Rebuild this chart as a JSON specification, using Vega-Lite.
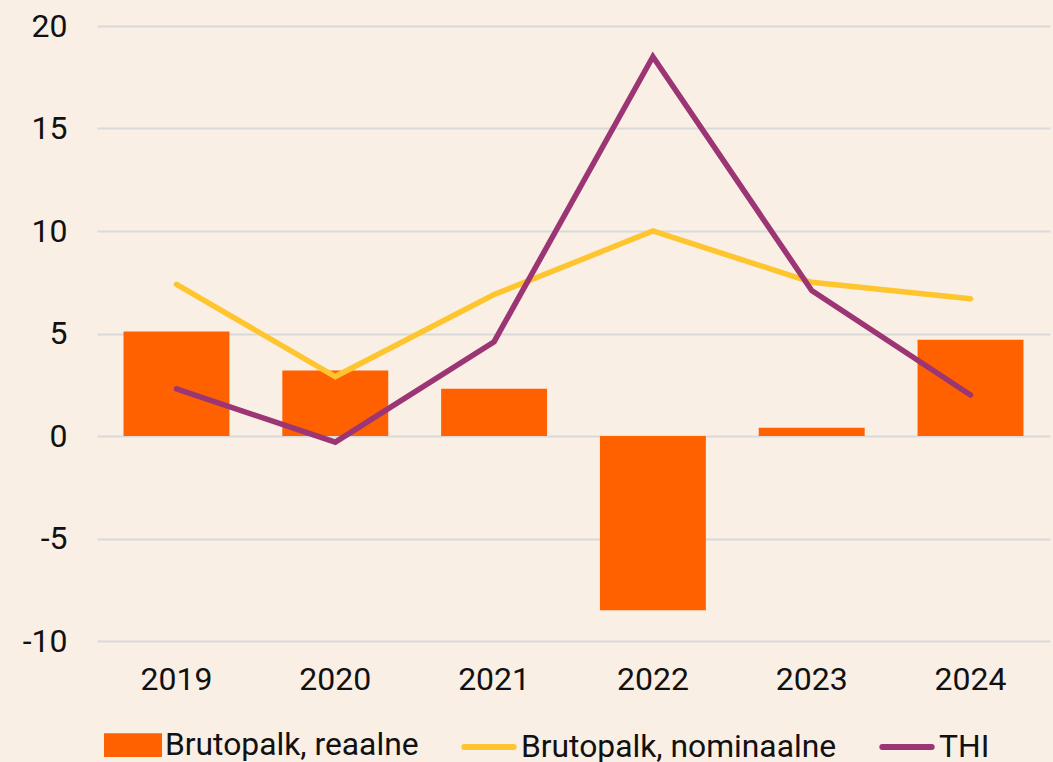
{
  "$schema": "https://vega.github.io/schema/vega-lite/v6.json",
  "width": 953,
  "height": 615,
  "autosize": {"type": "none"},
  "padding": {"left": 97, "top": 26, "right": 3, "bottom": 121},
  "background": "#F9EFE5",
  "config": {
    "view": {"stroke": null},
    "font": "Roboto",
    "axis": {"labelFont": "Roboto", "labelFontSize": 32, "labelColor": "#111111", "domain": false, "ticks": false, "title": null},
    "legend": {"labelFont": "Roboto", "labelFontSize": 31.8, "labelColor": "#111111", "labelLimit": 0}
  },
  "data": {
    "values": [
      {"year": "2019", "series": "Brutopalk, reaalne", "value": 5.1},
      {"year": "2020", "series": "Brutopalk, reaalne", "value": 3.2},
      {"year": "2021", "series": "Brutopalk, reaalne", "value": 2.3},
      {"year": "2022", "series": "Brutopalk, reaalne", "value": -8.5},
      {"year": "2023", "series": "Brutopalk, reaalne", "value": 0.4},
      {"year": "2024", "series": "Brutopalk, reaalne", "value": 4.7},
      {"year": "2019", "series": "Brutopalk, nominaalne", "value": 7.4},
      {"year": "2020", "series": "Brutopalk, nominaalne", "value": 2.9},
      {"year": "2021", "series": "Brutopalk, nominaalne", "value": 6.9},
      {"year": "2022", "series": "Brutopalk, nominaalne", "value": 10.0},
      {"year": "2023", "series": "Brutopalk, nominaalne", "value": 7.5},
      {"year": "2024", "series": "Brutopalk, nominaalne", "value": 6.7},
      {"year": "2019", "series": "THI", "value": 2.3},
      {"year": "2020", "series": "THI", "value": -0.3},
      {"year": "2021", "series": "THI", "value": 4.6},
      {"year": "2022", "series": "THI", "value": 18.5},
      {"year": "2023", "series": "THI", "value": 7.1},
      {"year": "2024", "series": "THI", "value": 2.0}
    ]
  },
  "encoding": {
    "x": {
      "field": "year", "type": "nominal",
      "scale": {"paddingInner": 0.333, "paddingOuter": 0.167},
      "axis": {"labelAngle": 0, "labelPadding": 23}
    },
    "y": {
      "field": "value", "type": "quantitative",
      "scale": {"domain": [-10, 20], "nice": false, "zero": false},
      "axis": {"values": [-10, -5, 0, 5, 10, 15, 20], "labelPadding": 30, "gridColor": "#D9D9D9", "gridWidth": 2, "labelExpr": "replace(datum.label, '−', '-')"}
    },
    "color": {
      "field": "series", "type": "nominal",
      "scale": {"domain": ["Brutopalk, reaalne", "Brutopalk, nominaalne", "THI"], "range": ["#FF6000", "#FFC52F", "#9C3573"]},
      "legend": {
        "title": null,
        "orient": "none",
        "legendX": 7,
        "legendY": 690,
        "direction": "horizontal",
        "symbolSize": 2704,
        "symbolStrokeWidth": 0,
        "labelOffset": 3,
        "columnPadding": 33,
        "labelBaseline": "middle",
        "encode": {
          "symbols": {
            "update": {
              "shape": {"signal": "datum.value === 'Brutopalk, reaalne' ? 'M-1,-0.34H1V0.34H-1Z' : 'M-0.95,0H0.95'"},
              "fill": {"signal": "datum.value === 'Brutopalk, reaalne' ? '#FF6000' : 'transparent'"},
              "stroke": {"signal": "datum.value === 'Brutopalk, reaalne' ? 'transparent' : scale('color', datum.value)"},
              "strokeWidth": {"value": 6},
              "strokeCap": {"value": "round"},
              "opacity": {"value": 1}
            }
          }
        }
      }
    }
  },
  "layer": [
    {
      "transform": [{"filter": "datum.series === 'Brutopalk, reaalne'"}],
      "mark": {"type": "bar"}
    },
    {
      "transform": [{"filter": "datum.series !== 'Brutopalk, reaalne'"}],
      "mark": {"type": "line", "strokeWidth": 5.5, "strokeCap": "round", "strokeJoin": "miter"}
    }
  ]
}
